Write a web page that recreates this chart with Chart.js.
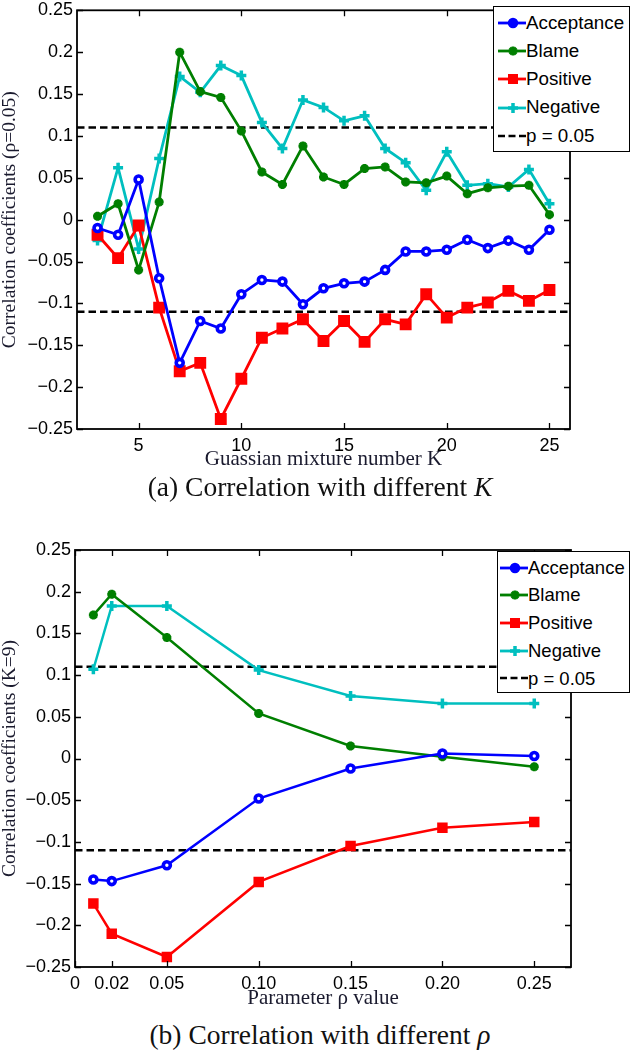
<!DOCTYPE html>
<html>
<head>
<meta charset="utf-8">
<script src="https://cdn.jsdelivr.net/npm/chart.js@4.4.1/dist/chart.umd.min.js"></script>
<style>
  html, body { margin: 0; padding: 0; background: #fff; }
  #page { position: relative; width: 630px; height: 1050px; overflow: hidden; }
  canvas { position: absolute; left: 0; }
  .caption { position: absolute; left: 20px; width: 600px; text-align: center;
             font-family: "Liberation Serif", "DejaVu Serif", serif; font-size: 27.5px;
             line-height: 30px; color: #111; }
  .legend { position: absolute; background: #fff; border: 1.5px solid #000; box-sizing: border-box;
            font-family: "Liberation Sans", Arial, sans-serif; color: #000; }
  .legend .row { position: relative; white-space: nowrap; }
  .legend svg { position: absolute; top: 0; }
  .legend span { position: absolute; top: 0; }
</style>
</head>
<body>
<div id="page">
  <canvas id="chartK" width="630" height="475" style="top:0"></canvas>
  <div class="caption" style="top:472px">(a) Correlation with different <i>K</i></div>
  <canvas id="chartRho" width="630" height="492" style="top:520px"></canvas>
  <div class="caption" style="top:1020px">(b) Correlation with different <i>ρ</i></div>
  <div id="legendK" class="legend"></div>
  <div id="legendRho" class="legend"></div>
</div>
<script>
// ---- data: (a) correlation vs Gaussian mixture number K ----
const kValues = [3, 4, 5, 6, 7, 8, 9, 10, 11, 12, 13, 14, 15, 16, 17, 18, 19, 20, 21, 22, 23, 24, 25];
const acceptanceK = [-0.01, -0.018, 0.048, -0.07, -0.171, -0.121, -0.13, -0.089, -0.072, -0.074, -0.101, -0.082, -0.076, -0.074, -0.06, -0.038, -0.038, -0.036, -0.024, -0.034, -0.025, -0.036, -0.012];
const blameK = [0.004, 0.019, -0.06, 0.021, 0.2, 0.153, 0.146, 0.106, 0.057, 0.042, 0.088, 0.051, 0.042, 0.061, 0.063, 0.045, 0.044, 0.052, 0.031, 0.038, 0.04, 0.041, 0.006];
const positiveK = [-0.018, -0.046, -0.007, -0.105, -0.181, -0.171, -0.238, -0.19, -0.141, -0.13, -0.119, -0.145, -0.121, -0.146, -0.119, -0.125, -0.089, -0.117, -0.105, -0.099, -0.085, -0.097, -0.084];
const negativeK = [-0.025, 0.062, -0.035, 0.073, 0.171, 0.152, 0.184, 0.172, 0.116, 0.085, 0.143, 0.134, 0.118, 0.124, 0.085, 0.068, 0.035, 0.081, 0.041, 0.043, 0.039, 0.06, 0.019];
const kRange = [2, 26];
const kTicks = [5, 10, 15, 20, 25];

// ---- data: (b) correlation vs parameter rho (K=9) ----
const rhoValues = [0.01, 0.02, 0.05, 0.10, 0.15, 0.20, 0.25];
const acceptanceRho = [-0.145, -0.147, -0.128, -0.048, -0.012, 0.006, 0.003];
const blameRho = [0.172, 0.197, 0.145, 0.054, 0.015, 0.002, -0.01];
const positiveRho = [-0.174, -0.21, -0.238, -0.148, -0.105, -0.083, -0.076];
const negativeRho = [0.107, 0.183, 0.183, 0.106, 0.075, 0.066, 0.066];
const rhoRange = [0, 0.27];
const rhoTicks = [0, 0.02, 0.05, 0.10, 0.15, 0.20, 0.25];

const pThreshold = 0.11;   // |r| for p = 0.05
const yRange = [-0.25, 0.25];

const seriesNames = ["Acceptance", "Blame", "Positive", "Negative"];
const colors = { Acceptance: "#0000ff", Blame: "#007f00", Positive: "#ff0000", Negative: "#00bfbf" };

const sansFont = '"Liberation Sans", Arial, sans-serif';
const serifFont = '"Liberation Serif", "Times New Roman", serif';

// ** marker styles per series **
function markerStyle(name, small) {
    switch (name) {
        case "Acceptance": return { pointStyle: "circle", pointRadius: 3.5, pointBorderWidth: 3.6, pointBackgroundColor: "#fff" };
        case "Blame": return { pointStyle: "star", pointRadius: 4.5, pointBorderWidth: 3, pointBackgroundColor: colors.Blame };
        case "Positive": return { pointStyle: "rect", pointRadius: small ? 6 : 7, pointBorderWidth: 2, pointBackgroundColor: colors.Positive };
        case "Negative": return { pointStyle: "cross", pointRadius: 5, pointBorderWidth: 3.5, pointBackgroundColor: colors.Negative };
    }
}

function buildDatasets(xs, seriesList, range, lineWidth, small) {
    const sets = seriesList.map((vals, i) => {
        const name = seriesNames[i];
        return Object.assign({
            label: name,
            data: xs.map((x, j) => ({ x: x, y: vals[j] })),
            borderColor: colors[name],
            backgroundColor: colors[name],
            pointBorderColor: colors[name],
            borderWidth: lineWidth,
            tension: 0
        }, markerStyle(name, small));
    });
    [pThreshold, -pThreshold].forEach((v, i) => {
        sets.push({
            label: i === 0 ? "p = 0.05" : "",
            data: range.map(x => ({ x: x, y: v })),
            borderColor: "#000",
            borderWidth: 2.5,
            borderDash: [7.5, 4],
            pointRadius: 0
        });
    });
    return sets;
}

// ** MATLAB-like box with inward ticks **
const boxTicks = {
    id: "boxTicks",
    afterDatasetsDraw(chart) {
        const { ctx, chartArea: a, scales: { x, y } } = chart;
        const len = 6;
        ctx.save();
        ctx.strokeStyle = "#000";
        ctx.lineWidth = 1.3;
        ctx.beginPath();
        x.ticks.forEach(t => {
            const px = Math.round(x.getPixelForValue(t.value)) + 0.5;
            ctx.moveTo(px, a.bottom); ctx.lineTo(px, a.bottom - len);
            ctx.moveTo(px, a.top); ctx.lineTo(px, a.top + len);
        });
        y.ticks.forEach(t => {
            const py = Math.round(y.getPixelForValue(t.value)) + 0.5;
            ctx.moveTo(a.left, py); ctx.lineTo(a.left + len, py);
            ctx.moveTo(a.right, py); ctx.lineTo(a.right - len, py);
        });
        ctx.stroke();
        ctx.lineWidth = 1.8;
        ctx.strokeRect(a.left, a.top, a.right - a.left, a.bottom - a.top);
        ctx.restore();
    }
};

function fmtY(v) {
    const s = parseFloat(Math.abs(v).toFixed(2)).toString();
    return v < -1e-9 ? "\u2212" + s : s;
}

function makeChart(id, datasets, opts) {
    const ctx = document.getElementById(id).getContext("2d");
    return new Chart(ctx, {
        type: "line",
        data: { datasets: datasets },
        plugins: [boxTicks],
        options: {
            responsive: false,
            animation: false,
            layout: { padding: { top: opts.padTop, right: opts.padRight, left: 0, bottom: 0 } },
            plugins: { legend: { display: false }, tooltip: { enabled: false } },
            scales: {
                x: {
                    type: "linear",
                    min: opts.xRange[0],
                    max: opts.xRange[1],
                    grid: { display: false, drawTicks: false },
                    border: { display: false },
                    afterBuildTicks: scale => { scale.ticks = opts.xTicks.map(v => ({ value: v })); },
                    afterFit: scale => { scale.height = opts.xAxisHeight; },
                    ticks: {
                        autoSkip: false, maxRotation: 0, padding: 6, color: "#000",
                        font: { family: sansFont, size: 18 },
                        callback: opts.xFormat
                    },
                    title: {
                        display: true, text: opts.xTitle, color: "#1a1a2e",
                        font: { family: serifFont, size: 21, lineHeight: 1.2 },
                        padding: { top: 0, bottom: opts.xTitlePad }
                    }
                },
                y: {
                    min: yRange[0],
                    max: yRange[1],
                    grid: { display: false, drawTicks: false },
                    border: { display: false },
                    afterFit: scale => { scale.width = opts.yAxisWidth; },
                    ticks: {
                        stepSize: 0.05, padding: 4, color: "#000",
                        font: { family: sansFont, size: 18, lineHeight: 0.7 },
                        callback: fmtY
                    },
                    title: {
                        display: true, text: opts.yTitle, color: "#1a1a2e",
                        font: { family: serifFont, size: 19.5, lineHeight: 1.0 },
                        padding: { top: 0, bottom: 0 }
                    }
                }
            }
        }
    });
}

// ** HTML legend built from the chart datasets **
function markerSvg(name) {
    const c = colors[name];
    let m = "";
    if (name === "Acceptance") m = `<circle cx="16" cy="14" r="4" fill="${c}" stroke="${c}" stroke-width="2.5"/>`;
    if (name === "Blame") m = `<path d="M16 9.5v9M11.5 14h9M12.8 10.8l6.4 6.4M12.8 17.2l6.4-6.4" stroke="${c}" stroke-width="3"/>`;
    if (name === "Positive") m = `<rect x="11" y="9" width="10" height="10" fill="${c}"/>`;
    if (name === "Negative") m = `<path d="M16 9v10M11 14h10" stroke="${c}" stroke-width="3.5"/>`;
    if (name === "p = 0.05") return `<line x1="1" y1="14" x2="29" y2="14" stroke="#000" stroke-width="2.5" stroke-dasharray="7,3.5"/>`;
    return `<line x1="1" y1="14" x2="29" y2="14" stroke="${c}" stroke-width="2.8"/>` + m;
}

function makeLegend(id, chart, box) {
    const el = document.getElementById(id);
    Object.assign(el.style, { left: box.left + "px", top: box.top + "px", width: box.width + "px",
                              height: box.height + "px", paddingTop: box.padTop + "px", fontSize: box.fontSize + "px" });
    chart.data.datasets.filter(d => d.label).forEach(d => {
        const row = document.createElement("div");
        row.className = "row";
        row.style.height = box.rowH + "px";
        row.style.lineHeight = box.rowH + "px";
        row.innerHTML = `<svg width="32" height="28" style="left:${box.lineX}px;top:${(box.rowH - 28) / 2}px">${markerSvg(d.label)}</svg>` +
                        `<span style="left:${box.textX}px">${d.label}</span>`;
        el.appendChild(row);
    });
}

const chartK = makeChart("chartK",
    buildDatasets(kValues, [acceptanceK, blameK, positiveK, negativeK], kRange, 2.8, false),
    {
        padTop: 8, padRight: 60, xRange: kRange, xTicks: kTicks, xAxisHeight: 46, xTitlePad: 3, yAxisWidth: 77,
        xTitle: "Guassian mixture number K", yTitle: "Correlation coefficients (\u03c1=0.05)",
        xFormat: v => String(v)
    });

const chartRho = makeChart("chartRho",
    buildDatasets(rhoValues, [acceptanceRho, blameRho, positiveRho, negativeRho], rhoRange, 2.5, true),
    {
        padTop: 30, padRight: 59, xRange: rhoRange, xTicks: rhoTicks, xAxisHeight: 45, xTitlePad: 1, yAxisWidth: 75,
        xTitle: "Parameter \u03c1 value", yTitle: "Correlation coefficients (K=9)",
        xFormat: v => (v === 0 ? "0" : v.toFixed(2))
    });

makeLegend("legendK", chartK, { left: 493, top: 6, width: 137, height: 146, padTop: 1.5, rowH: 28.3, lineX: 3, textX: 32, fontSize: 18.8 });
makeLegend("legendRho", chartRho, { left: 497, top: 551, width: 133, height: 142, padTop: 1.8, rowH: 27.7, lineX: 1, textX: 30, fontSize: 18.5 });
</script>
</body>
</html>
